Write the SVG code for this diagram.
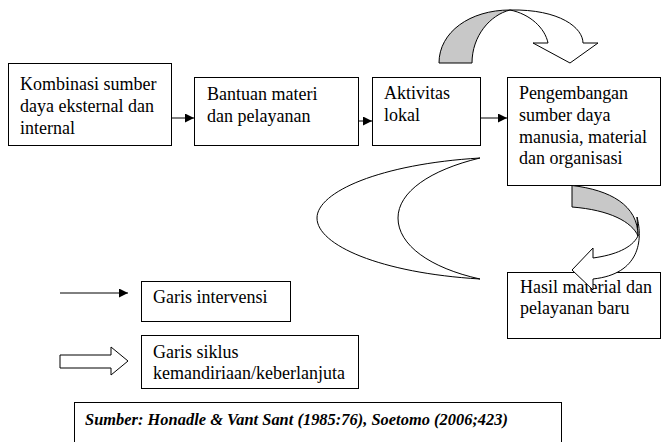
<svg xmlns="http://www.w3.org/2000/svg" width="662" height="442" viewBox="0 0 662 442">
<style>
.box{fill:#fff;stroke:#000;stroke-width:1}
.t{font-family:"Liberation Serif","Times New Roman",serif;font-size:18px;fill:#000}
.src{font-family:"Liberation Serif","Times New Roman",serif;font-size:16.4px;font-weight:bold;font-style:italic;fill:#000}
.ln{stroke:#000;stroke-width:1;fill:none}
.sh{stroke:#000;stroke-width:1;fill:#fff}
.gr{stroke:#000;stroke-width:1;fill:#c8c8c8}
</style>
<defs>
<marker id="ah" viewBox="0 0 10 10" refX="10" refY="5" markerWidth="9" markerHeight="9" markerUnits="userSpaceOnUse" orient="auto">
<path d="M0,0 L10,5 L0,10 Z" fill="#000"/>
</marker>
</defs>
<rect width="662" height="442" fill="#fff"/>

<g id="connectors">
<line class="ln" x1="172" y1="118" x2="194" y2="118" marker-end="url(#ah)"/>
<line class="ln" x1="358" y1="121" x2="372" y2="121" marker-end="url(#ah)"/>
<line class="ln" x1="480" y1="118" x2="507" y2="118" marker-end="url(#ah)"/>
</g>

<g id="node-kombinasi">
<rect class="box" x="8.5" y="63.5" width="163" height="82"/>
<text class="t" x="20" y="90" textLength="136.5">Kombinasi sumber</text>
<text class="t" x="20" y="112" textLength="134">daya eksternal dan</text>
<text class="t" x="20" y="134" textLength="55">internal</text>
</g>

<g id="node-bantuan">
<rect class="box" x="194.5" y="77.5" width="164" height="68"/>
<text class="t" x="207" y="100" textLength="110.5">Bantuan materi</text>
<text class="t" x="207" y="122" textLength="103.5">dan pelayanan</text>
</g>

<g id="node-aktivitas">
<rect class="box" x="372.5" y="77.5" width="108" height="68"/>
<text class="t" x="384" y="99" textLength="66">Aktivitas</text>
<text class="t" x="384" y="121" textLength="36">lokal</text>
</g>

<g id="node-pengembangan">
<rect class="box" x="507.5" y="77.5" width="153" height="108"/>
<text class="t" x="519" y="99" textLength="109">Pengembangan</text>
<text class="t" x="519" y="121" textLength="91.5">sumber daya</text>
<text class="t" x="519" y="143" textLength="128">manusia, material</text>
<text class="t" x="519" y="164" textLength="103.5">dan organisasi</text>
</g>

<g id="node-hasil">
<rect class="box" x="507.5" y="272.5" width="153" height="66"/>
<text class="t" x="520" y="293" textLength="132">Hasil material dan</text>
<text class="t" x="520" y="314" textLength="109.5">pelayanan baru</text>
</g>

<g id="cycle-top-arrow">
<path class="sh" d="M510,10 C560,9 583,28 583,43 L598,43 L570,63 L533,43 L548,43 C545,28 530,14 510,10 Z"/>
<path class="gr" d="M439,63 C439,32 470,10 510,10 C490,15 472,36 472,63 Z"/>
</g>

<g id="cycle-crescent">
<path class="sh" d="M480,158 C380,164 317,192 317,218 C317,245 380,273 480,279 C430,268 398,245 398,218 C398,192 430,170 480,158 Z"/>
</g>

<g id="cycle-right-arrow">
<path class="sh" d="M637,217 C643,240 640,274 593,279 L593,290 L572,270 L593,248 L593,258 C615,255 632,248 638,236 Z"/>
<path class="gr" d="M572,185.5 C610,190 638,205 638,236 C632,222 610,210 572,207 Z"/>
</g>

<g id="legend-intervensi">
<line class="ln" x1="60" y1="293" x2="128" y2="293" marker-end="url(#ah)"/>
<rect class="box" x="141.5" y="281.5" width="149" height="40"/>
<text class="t" x="153" y="303" textLength="114.5">Garis intervensi</text>
</g>

<g id="legend-siklus">
<path class="sh" d="M60,355 L111,355 L111,347 L128,361 L111,375 L111,368 L60,368 Z"/>
<rect class="box" x="141.5" y="335.5" width="217" height="53"/>
<text class="t" x="153" y="358" textLength="85.5">Garis siklus</text>
<text class="t" x="153" y="379" textLength="192">kemandiriaan/keberlanjuta</text>
</g>

<g id="source">
<rect class="box" x="74.5" y="402.5" width="487" height="50"/>
<text class="src" x="85" y="425" textLength="423">Sumber: Honadle &amp; Vant Sant (1985:76), Soetomo (2006;423)</text>
</g>
</svg>
